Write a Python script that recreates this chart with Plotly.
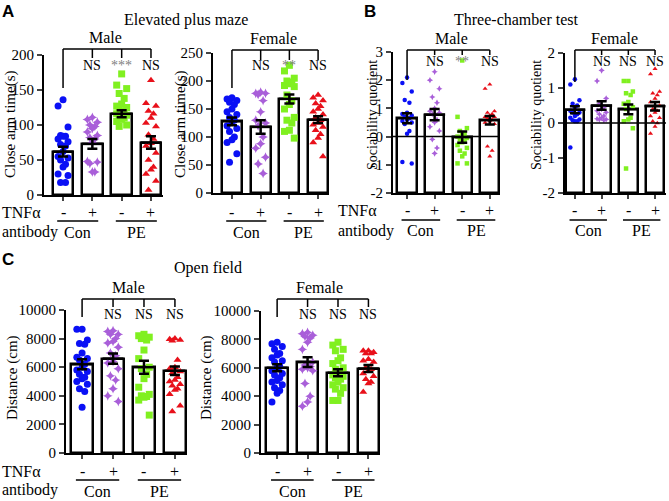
import plotly.graph_objects as go

W, H = 669, 501

signs = ["-", "+", "-", "+"]
colors = ["#0a10f5", "#a95fd9", "#80f020", "#e8101a"]
symbols = ["circle", "star-diamond", "square", "triangle-up"]

# Elevated plus maze - male (Con-, Con+, PE-, PE+)
epm_m_pts = [
    [136, 127, 97, 85, 84, 84, 80, 76, 72, 70, 62, 55, 53, 50, 44, 40, 30, 28, 18, 18],
    [111, 108, 104, 100, 98, 95, 90, 85, 82, 80, 75, 48, 47, 45, 33, 33],
    [173, 157, 152, 145, 138, 130, 127, 125, 122, 120, 118, 116, 114, 112, 110, 108, 105, 100, 98],
    [164, 131, 127, 120, 116, 110, 103, 98, 86, 80, 74, 70, 60, 50, 40, 36, 30, 20, 7],
]
epm_m_mean = [62, 73, 116, 75]
epm_m_sem = [7, 7, 5, 9]
epm_m_sig = ["", "NS", "***", "NS"]

# Elevated plus maze - female
epm_f_pts = [
    [170, 168, 165, 162, 158, 150, 145, 140, 135, 130, 128, 120, 115, 110, 100, 95, 90, 70, 55],
    [180, 178, 178, 176, 165, 145, 130, 125, 120, 100, 88, 80, 64, 52, 35],
    [228, 218, 205, 200, 198, 195, 192, 190, 175, 165, 158, 150, 135, 130, 125, 112, 110, 98],
    [175, 170, 165, 160, 155, 150, 145, 140, 135, 130, 125, 122, 118, 112, 105, 98, 90, 65],
]
epm_f_mean = [128, 118, 168, 131]
epm_f_sem = [7, 12, 8, 6]
epm_f_sig = ["", "NS", "**", "NS"]

# Three-chamber test - male
tct_m_pts = [
    [2.1, 1.9, 1.6, 1.3, 1.2, 0.85, 0.8, 0.75, 0.7, 0.65, 0.6, 0.55, 0.5, 0.45, 0.2, 0.1, -0.9, -0.95],
    [2.3, 2.0, 1.7, 1.4, 1.2, 1.0, 0.9, 0.85, 0.8, 0.6, 0.5, 0.35, 0.2, -0.1, -0.4, -0.6],
    [2.7, 0.7, 0.3, 0.2, 0.1, 0.05, 0.0, -0.05, -0.1, -0.15, -0.2, -0.3, -0.4, -0.5, -0.6, -0.7, -0.95, -0.95],
    [1.85, 1.7, 0.9, 0.85, 0.8, 0.75, 0.7, 0.7, 0.65, 0.6, 0.55, 0.5, 0.45, -0.35, -0.5, -0.7],
]
tct_m_mean = [0.65, 0.78, -0.02, 0.58]
tct_m_sem = [0.18, 0.2, 0.2, 0.15]
tct_m_sig = ["", "NS", "**", "NS"]
tct_m_ticks = ["-2", "-1", "0", "1", "2", "3"]

# Three-chamber test - female
tct_f_pts = [
    [1.25, 1.1, 0.65, 0.55, 0.5, 0.45, 0.35, 0.3, 0.3, 0.25, 0.2, 0.15, 0.1, 0.08, 0.05, 0.05, -0.7],
    [1.5, 1.2, 0.7, 0.55, 0.45, 0.4, 0.35, 0.3, 0.25, 0.2, 0.15, 0.12, 0.1, 0.1, 0.08],
    [1.2, 1.2, 0.9, 0.85, 0.8, 0.6, 0.55, 0.45, 0.4, 0.15, 0.1, 0.05, -0.15, -1.3],
    [1.55, 1.4, 0.9, 0.85, 0.8, 0.7, 0.6, 0.5, 0.4, 0.35, 0.3, 0.2, 0.15, 0.05, 0.0, -0.1, -0.3],
]
tct_f_mean = [0.38, 0.5, 0.39, 0.48]
tct_f_sem = [0.1, 0.12, 0.14, 0.12]
tct_f_sig = ["", "NS", "NS", "NS"]
tct_f_ticks = ["-2", "-1", "0", "1", "2"]

# Open field - male
of_m_pts = [
    [8650, 8650, 7900, 7650, 7600, 7000, 6700, 6600, 6500, 6200, 6000, 5800, 5700, 5500, 5300, 5200, 5000, 4800, 4500, 4300, 3200],
    [8550, 8500, 8300, 8300, 8000, 7800, 7700, 7400, 7000, 6800, 6400, 6300, 5900, 5400, 5100, 4500, 4000, 3600],
    [8300, 8200, 8100, 8000, 7900, 7200, 6600, 6000, 5900, 5500, 5200, 4600, 4100, 4000, 3950, 3900, 3700, 2650],
    [8000, 7950, 7900, 7850, 6500, 6000, 5900, 5700, 5600, 5300, 5100, 5000, 4800, 4700, 4500, 4400, 4100, 3300, 2900],
]
of_m_mean = [6200, 6600, 6000, 5750]
of_m_sem = [350, 350, 450, 300]
of_m_sig = ["", "NS", "NS", "NS"]

# Open field - female
of_f_pts = [
    [7800, 7700, 7500, 7300, 7000, 6900, 6700, 6500, 6400, 6100, 6000, 5800, 5600, 5500, 5300, 5100, 5000, 4800, 4600, 4400, 4200, 3600],
    [8500, 8400, 8300, 8200, 8100, 7800, 7300, 6400, 6200, 6100, 6000, 5900, 5800, 4900, 4000, 3600, 3300],
    [7800, 7600, 7300, 7200, 6700, 6500, 6300, 6000, 5900, 5700, 5600, 5500, 5400, 5300, 5200, 5000, 4800, 4600, 4500, 4200, 3700, 3700],
    [7200, 7200, 7100, 7000, 7000, 6600, 6500, 6400, 6000, 5900, 5800, 5600, 5400, 5200, 5000, 4900, 4300],
]
of_f_mean = [6000, 6400, 5650, 5950]
of_f_sem = [250, 350, 250, 250]
of_f_sig = ["", "NS", "NS", "NS"]

SERIF = "Liberation Serif"


def fx(px):
    return px / W


def fy(py):
    return 1 - py / H


def note(text, x, y, xref="paper", size=16, color="black", family=SERIF, **kw):
    d = dict(text=text, x=x, y=y, xref=xref, yref="paper", showarrow=False,
             xanchor="center", yanchor="middle", font=dict(family=family, size=size, color=color))
    d.update(kw)
    return d


# layout of each panel in pixels: plot box, x range, y range, labels
panels = [
    dict(pts=epm_m_pts, mean=epm_m_mean, sem=epm_m_sem, sig=epm_m_sig, box=(44, 163, 55, 195),
         xr=(-0.65, 3.41), yr=(0, 200), dt=50, base=0, ms=7, sex="Male", sex_x=1.45, ticks=None,
         ytitle="Close arm time(s)", yt=(11, 125, 15), br=49, leg0=88, leg=58, sig_y=65, sub_y=(212, 221, 232)),
    dict(pts=epm_f_pts, mean=epm_f_mean, sem=epm_f_sem, sig=epm_f_sig, box=(213, 329, 53, 193),
         xr=(-0.66, 3.38), yr=(0, 250), dt=50, base=0, ms=7, sex="Female", sex_x=1.45, ticks=None,
         ytitle="Close arm time(s)", yt=(181, 125, 15), br=50, leg0=88, leg=60, sig_y=65, sub_y=(212, 221, 232)),
    dict(pts=tct_m_pts, mean=tct_m_mean, sem=tct_m_sem, sig=tct_m_sig, box=(393, 500, 52, 193),
         xr=(-0.51, 3.37), yr=(-2, 3), dt=1, base=-2, ms=4.5, sex="Male", sex_x=1.6, ticks=tct_m_ticks,
         ytitle="Sociability quotient", yt=(373, 115, 14), br=50, leg0=80, leg=55, sig_y=62, sub_y=(210, 220, 231)),
    dict(pts=tct_f_pts, mean=tct_f_mean, sem=tct_f_sem, sig=tct_f_sig, box=(565, 666, 53, 193),
         xr=(-0.37, 3.41), yr=(-2, 2), dt=1, base=-2, ms=4.5, sex="Female", sex_x=1.5, ticks=tct_f_ticks,
         ytitle="Sociability quotient", yt=(537, 115, 14), br=50, leg0=82, leg=55, sig_y=62, sub_y=(210, 220, 231)),
    dict(pts=of_m_pts, mean=of_m_mean, sem=of_m_sem, sig=of_m_sig, box=(66, 187, 310, 453),
         xr=(-0.52, 3.39), yr=(0, 10000), dt=2000, base=0, ms=7, sex="Male", sex_x=1.5, ticks=None,
         ytitle="Distance (cm)", yt=(12, 378, 15), br=299, leg0=317, leg=307, sig_y=314, sub_y=(471, 480, 491)),
    dict(pts=of_f_pts, mean=of_f_mean, sem=of_f_sem, sig=of_f_sig, box=(261, 380, 311, 453),
         xr=(-0.53, 3.38), yr=(0, 10000), dt=2000, base=0, ms=7, sex="Female", sex_x=1.4, ticks=None,
         ytitle="Distance (cm)", yt=(206, 378, 15), br=299, leg0=317, leg=307, sig_y=314, sub_y=(471, 480, 491)),
]

jitter = [0.0, -0.17, 0.17, -0.085, 0.085]

fig = go.Figure()
shapes = []
annotations = []
layout = {}

# bars first so they sit under the dots
for k, p in enumerate(panels, start=1):
    xa = "x" if k == 1 else f"x{k}"
    ya = "y" if k == 1 else f"y{k}"
    fig.add_trace(go.Bar(
        x=[0, 1, 2, 3], y=[m - p["base"] for m in p["mean"]], base=p["base"], width=0.7,
        marker=dict(color="white", line=dict(color="black", width=2.5)),
        xaxis=xa, yaxis=ya, showlegend=False,
    ))

for k, p in enumerate(panels, start=1):
    xa = "x" if k == 1 else f"x{k}"
    ya = "y" if k == 1 else f"y{k}"
    for g in range(4):
        vals = sorted(p["pts"][g], reverse=True)
        xs = [g + jitter[i % len(jitter)] for i in range(len(vals))]
        fig.add_trace(go.Scatter(
            x=xs, y=vals, mode="markers", xaxis=xa, yaxis=ya, showlegend=False,
            marker=dict(color=colors[g], symbol=symbols[g], size=p["ms"], line=dict(width=0)),
        ))

for k, p in enumerate(panels, start=1):
    xa = "x" if k == 1 else f"x{k}"
    ya = "y" if k == 1 else f"y{k}"
    fig.add_trace(go.Scatter(
        x=[0, 1, 2, 3], y=p["mean"], mode="markers", xaxis=xa, yaxis=ya, showlegend=False,
        marker=dict(symbol="line-ew", size=15, color="black", line=dict(color="black", width=2.5)),
        error_y=dict(type="data", array=p["sem"], color="black", thickness=2.5, width=5),
    ))

    x0, x1, y0, y1 = p["box"]
    sfx = "" if k == 1 else str(k)
    layout[f"xaxis{sfx}"] = dict(
        domain=[fx(x0), fx(x1)], range=list(p["xr"]), anchor=ya, automargin=False,
        showline=True, linecolor="black", linewidth=2, ticks="outside", ticklen=4, tickwidth=2,
        tickvals=[0, 1, 2, 3], showticklabels=False, showgrid=False, zeroline=False, fixedrange=True,
    )
    yax = dict(
        domain=[fy(y1), fy(y0)], range=list(p["yr"]), anchor=xa, automargin=False,
        showline=True, linecolor="black", linewidth=2, ticks="outside", ticklen=5, tickwidth=2,
        tickfont=dict(family=SERIF, size=15, color="black"), showgrid=False, zeroline=False,
    )
    if p["ticks"]:
        yax.update(tickvals=[float(t) for t in p["ticks"]], ticktext=p["ticks"])
    else:
        yax.update(tickmode="linear", tick0=p["yr"][0], dtick=p["dt"], tickformat="d")
    layout[f"yaxis{sfx}"] = yax

    if p["base"] < 0:
        shapes.append(dict(type="line", xref=f"{xa} domain", yref=ya, x0=0, x1=1, y0=0, y1=0,
                           line=dict(color="black", width=1.5), layer="above"))

    # bracket
    shapes.append(dict(type="line", xref=xa, yref="paper", x0=0, x1=3, y0=fy(p["br"]), y1=fy(p["br"]),
                       line=dict(color="black", width=1.5)))
    shapes.append(dict(type="line", xref=xa, yref="paper", x0=0, x1=0, y0=fy(p["br"]), y1=fy(p["leg0"]),
                       line=dict(color="black", width=1.5)))
    for g in (1, 2, 3):
        shapes.append(dict(type="line", xref=xa, yref="paper", x0=g, x1=g, y0=fy(p["br"]), y1=fy(p["leg"]),
                           line=dict(color="black", width=1.5)))
    annotations.append(note(p["sex"], p["sex_x"], fy(p["br"] - 1), xref=xa, yanchor="bottom"))
    for g in range(4):
        if p["sig"][g]:
            col = "#808080" if "*" in p["sig"][g] else "black"
            annotations.append(note(p["sig"][g], g, fy(p["sig_y"]), xref=xa, size=14, color=col))

    # treatment rows under the axis
    sy, ly, gy = p["sub_y"]
    for g in range(4):
        annotations.append(note(signs[g], g, fy(sy), xref=xa))
    for a, b, name, cx in ((-0.2, 1.2, "Con", 0.5), (1.8, 3.2, "PE", 2.5)):
        shapes.append(dict(type="line", xref=xa, yref="paper", x0=a, x1=b, y0=fy(ly), y1=fy(ly),
                           line=dict(color="black", width=1.5)))
        annotations.append(note(name, cx, fy(gy), xref=xa))

    tx, ty, ts = p["yt"]
    annotations.append(note(p["ytitle"], fx(tx), fy(ty), size=ts, textangle=-90))

# row labels, titles, panel letters
for txt, px, py in (("TNFα", 0, 212), ("antibody", 0, 232), ("TNFα", 336, 210), ("antibody", 336, 231),
                    ("TNFα", 0, 471), ("antibody", 0, 490)):
    annotations.append(note(txt, fx(px), fy(py), xanchor="left"))

for txt, px, py in (("Elevated plus maze", 186, 20), ("Three-chamber test", 516, 20), ("Open field", 208, 268)):
    annotations.append(note(txt, fx(px), fy(py)))

for txt, px, py in (("A", 0, 0), ("B", 362, 0), ("C", 0, 248)):
    annotations.append(note(f"<b>{txt}</b>", fx(px), fy(py), size=17, family="Liberation Sans",
                            xanchor="left", yanchor="top"))

fig.update_layout(
    template="none",
    width=W, height=H, margin=dict(l=0, r=0, t=0, b=0, autoexpand=False),
    paper_bgcolor="white", plot_bgcolor="white", showlegend=False, bargap=0,
    font=dict(family=SERIF, color="black"),
    shapes=shapes, annotations=annotations, **layout,
)

fig.write_html("out.html", config={"displayModeBar": False},
               post_script="document.body.style.margin='0px';")
